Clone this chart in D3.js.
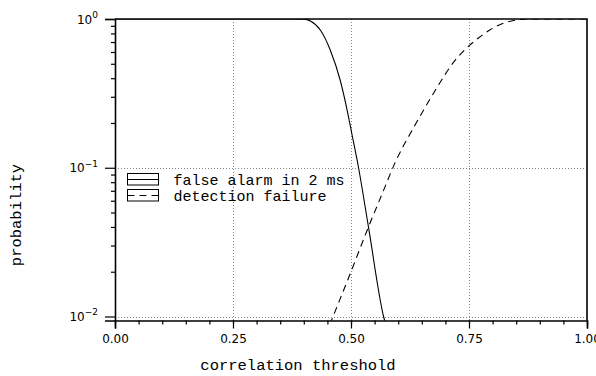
<!DOCTYPE html>
<html>
<head>
<meta charset="utf-8">
<script src="https://cdn.jsdelivr.net/npm/d3@7"></script>
<style>
  body { margin: 0; background: #fff; }
  svg { display: block; }
</style>
</head>
<body>
<svg id="chart" width="596" height="376"></svg>
<script>
// threshold values and probabilities
const falseAlarm = [
  [0.00, 1.0], [0.38, 1.0], [0.40, 0.998], [0.414, 0.97], [0.435, 0.843],
  [0.456, 0.619], [0.477, 0.389], [0.491, 0.251], [0.502, 0.168],
  [0.516, 0.100], [0.537, 0.040], [0.569, 0.010], [0.575, 0.0085]
];
const detectionFailure = [
  [0.455, 0.0088], [0.462, 0.010], [0.500, 0.020], [0.537, 0.040],
  [0.567, 0.068], [0.595, 0.111], [0.612, 0.142], [0.631, 0.182],
  [0.653, 0.242], [0.673, 0.310], [0.692, 0.389], [0.713, 0.491],
  [0.735, 0.595], [0.750, 0.660], [0.770, 0.745], [0.794, 0.843],
  [0.823, 0.936], [0.851, 0.985], [0.872, 1.0], [1.00, 1.0]
];
const xTicks = [0, 0.25, 0.5, 0.75, 1];
const xMinorTicks = d3.range(0, 21).map(i => i * 0.05);
const yTicks = [1, 0.1, 0.01];
const yExponents = ["0", "\u22121", "\u22122"];
const yMinorTicks = [0.02, 0.03, 0.04, 0.05, 0.06, 0.07, 0.08, 0.09, 0.2, 0.3, 0.4, 0.5, 0.6, 0.7, 0.8, 0.9];
const legendLabels = ["false alarm in 2 ms", "detection failure"];

const svg = d3.select("#chart");
const plotLeft = 115, plotRight = 587, plotTop = 19, plotBottom = 320.5;

const x = d3.scaleLinear().domain([0, 1]).range([plotLeft, plotRight]);
const y = d3.scaleLog().domain([0.0094, 1]).range([plotBottom, plotTop]);

const monoFont = "'Liberation Mono', monospace";
const tickFont = "'DejaVu Sans', sans-serif";

// clip for curves
svg.append("clipPath").attr("id", "plot-clip")
  .append("rect")
  .attr("x", plotLeft).attr("y", plotTop)
  .attr("width", plotRight - plotLeft).attr("height", plotBottom - plotTop);

// dotted grid
const grid = svg.append("g")
  .attr("stroke", "#888")
  .attr("stroke-width", 1)
  .attr("stroke-dasharray", "1,2");
grid.selectAll(".gx").data([0.25, 0.5, 0.75]).enter().append("line")
  .attr("x1", d => Math.round(x(d)) + 0.5).attr("x2", d => Math.round(x(d)) + 0.5)
  .attr("y1", plotTop).attr("y2", plotBottom);
grid.selectAll(".gy").data([0.1, 0.01]).enter().append("line")
  .attr("x1", plotLeft).attr("x2", plotRight)
  .attr("y1", d => Math.round(y(d)) + 0.5).attr("y2", d => Math.round(y(d)) + 0.5);

// frame top + right
svg.append("path")
  .attr("d", "M" + plotLeft + "," + plotTop + "H" + plotRight + "V" + plotBottom)
  .attr("fill", "none").attr("stroke", "#000").attr("stroke-width", 1.6);

// x axis
const xAxis = svg.append("g")
  .attr("transform", "translate(0," + plotBottom + ")")
  .call(d3.axisBottom(x).tickValues(xTicks).tickFormat(d3.format(".2f")).tickSize(8).tickPadding(6));
svg.append("g")
  .attr("transform", "translate(0," + plotBottom + ")")
  .call(d3.axisBottom(x).tickValues(xMinorTicks).tickFormat("").tickSize(4))
  .call(g => g.select(".domain").remove());

// y axis
const yAxis = svg.append("g")
  .attr("transform", "translate(" + plotLeft + ",0)")
  .call(d3.axisLeft(y).tickValues(yTicks).tickSize(10).tickPadding(7).tickFormat(""));
svg.append("g")
  .attr("transform", "translate(" + plotLeft + ",0)")
  .call(d3.axisLeft(y).tickValues(yMinorTicks).tickFormat("").tickSize(4))
  .call(g => g.select(".domain").remove());

svg.selectAll(".domain").attr("stroke-width", 1.6);
svg.selectAll(".tick line").attr("stroke-width", 1.2);

xAxis.selectAll("text")
  .attr("font-family", tickFont).attr("font-size", 12).attr("fill", "#000");

yAxis.selectAll(".tick text").each(function(d, i) {
  const t = d3.select(this)
    .attr("font-family", tickFont).attr("font-size", 12).attr("fill", "#000")
    .attr("dy", "0.35em").attr("x", -17);
  t.append("tspan").text("10");
  t.append("tspan").attr("font-size", 9).attr("dy", "-0.65em").text(yExponents[i]);
});

// curves
const line = d3.line()
  .x(d => x(d[0]))
  .y(d => y(d[1]))
  .curve(d3.curveMonotoneX);

const curves = svg.append("g").attr("clip-path", "url(#plot-clip)")
  .attr("fill", "none").attr("stroke", "#000").attr("stroke-width", 1.1);
curves.append("path").attr("d", line(falseAlarm));
curves.append("path").attr("d", line(detectionFailure)).attr("stroke-dasharray", "7,5");

// legend
const legend = svg.append("g").attr("transform", "translate(127.5,173.5)");
legendLabels.forEach((label, i) => {
  const row = legend.append("g").attr("transform", "translate(0," + (i * 16) + ")");
  row.append("rect").attr("width", 31).attr("height", 11.5)
    .attr("fill", "#fff").attr("stroke", "#000").attr("stroke-width", 1);
  row.append("line").attr("x1", 0).attr("x2", 31).attr("y1", 6).attr("y2", 6)
    .attr("stroke", "#000").attr("stroke-width", 1)
    .attr("stroke-dasharray", i === 1 ? "7,5" : null);
  row.append("text").attr("x", 46).attr("y", 11)
    .attr("font-family", monoFont).attr("font-size", 15).attr("fill", "#000")
    .text(label);
});

// axis titles
svg.append("text")
  .attr("x", 298).attr("y", 370)
  .attr("text-anchor", "middle")
  .attr("font-family", monoFont).attr("font-size", 15.5)
  .text("correlation threshold");

svg.append("text")
  .attr("transform", "translate(21,215) rotate(-90)")
  .attr("text-anchor", "middle")
  .attr("font-family", monoFont).attr("font-size", 15.5)
  .text("probability");
</script>
</body>
</html>
